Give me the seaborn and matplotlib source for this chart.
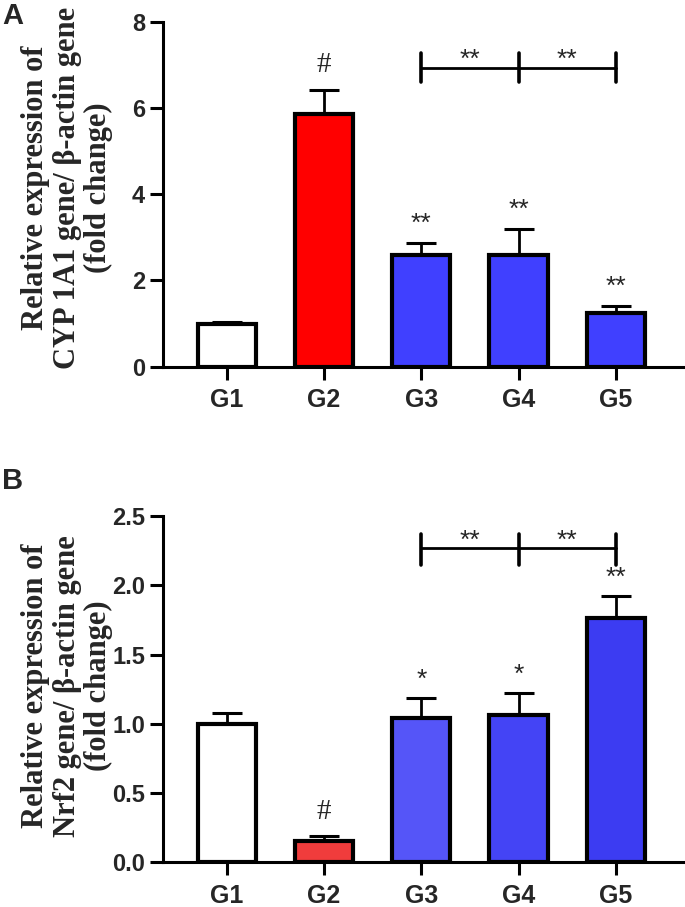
import numpy as np
import matplotlib
matplotlib.use("Agg")
import matplotlib.pyplot as plt
import seaborn as sns

groups = ["G1", "G2", "G3", "G4", "G5"]

# panel A: CYP 1A1
cyp_mean = [1.00, 5.85, 2.58, 2.60, 1.25]
cyp_err = [0.03, 0.57, 0.28, 0.59, 0.16]
cyp_marks = ["", "#", "**", "**", "**"]
cyp_colors = ["#ffffff", "#ff0000", "#4040ff", "#4040ff", "#4040ff"]

# panel B: Nrf2
nrf_mean = [1.00, 0.155, 1.045, 1.065, 1.76]
nrf_err = [0.077, 0.037, 0.14, 0.16, 0.165]
nrf_marks = ["", "#", "*", "*", "**"]
nrf_colors = ["#ffffff", "#f03c3c", "#5555f8", "#4444f5", "#3c3cf2"]

sns.set_style("ticks")
plt.rcParams["font.family"] = ["Liberation Sans", "DejaVu Sans"]

fig = plt.figure(figsize=(6.85, 9.07), dpi=100)
axA = fig.add_axes([0.238, 0.5957, 0.7605, 0.3804])
axB = fig.add_axes([0.238, 0.0493, 0.7605, 0.3818])


def draw(ax, means, errs, colors, marks, ylim, yticks, ylabel, bracket, offs, label_y):
    sns.barplot(x=groups, y=means, hue=groups, palette=colors, legend=False,
                edgecolor="black", linewidth=3, width=0.6, saturation=1, ax=ax)
    ax.errorbar(np.arange(5), means, yerr=[np.zeros(5), errs], fmt="none",
                ecolor="black", elinewidth=2, capsize=11, capthick=2.2, zorder=0.5)
    ax.set_xlim(-0.655, 4.70)
    ax.set_ylim(*ylim)
    ax.set_yticks(yticks)
    ax.set_yticklabels([("%g" % t) if ylim[1] > 5 else ("%.1f" % t) for t in yticks],
                       fontsize=17, fontweight="bold")
    ax.set_xticks(range(5))
    ax.set_xticklabels(groups, fontsize=18, fontweight="bold")
    ax.tick_params(axis="both", width=2.2, length=9.5, color="black")
    ax.tick_params(axis="x", pad=6)
    for s in ["top", "right"]:
        ax.spines[s].set_visible(False)
    for s in ["left", "bottom"]:
        ax.spines[s].set_linewidth(2.2)
        ax.spines[s].set_color("black")
    ax.set_xlabel("")
    ax.set_ylabel("")
    for i, m in enumerate(marks):
        if not m:
            continue
        if m == "#":
            ax.text(i, means[i] + errs[i] + offs[0], m, ha="center", va="center",
                    fontsize=21, family="Liberation Serif", clip_on=False)
        else:
            ax.text(i, means[i] + errs[i] + offs[1], m, ha="center", va="center",
                    fontsize=19, clip_on=False)
    yb, lo, hi, ys = bracket
    ax.plot([2, 4], [yb, yb], color="black", lw=2, clip_on=False)
    for xi in [2, 3, 4]:
        ax.plot([xi, xi], [lo, hi], color="black", lw=2.6, clip_on=False)
    for xc in [2.5, 3.5]:
        ax.text(xc, ys, "**", ha="center", va="center", fontsize=19, clip_on=False)
    fig.text(0.098, label_y, ylabel,
             rotation=90, ha="center", va="center", multialignment="center",
             fontsize=22, fontweight="bold", family="Liberation Serif", linespacing=1.1)


draw(axA, cyp_mean, cyp_err, cyp_colors, cyp_marks, (0, 8), [0, 2, 4, 6, 8],
     "Relative expression of\nCYP 1A1 gene/ β-actin gene\n(fold change)",
     (6.93, 6.59, 7.28, 7.12), (0.57, 0.45), 1 - 188 / 907)
draw(axB, nrf_mean, nrf_err, nrf_colors, nrf_marks, (0, 2.5), [0, 0.5, 1.0, 1.5, 2.0, 2.5],
     "Relative expression of\nNrf2 gene/ β-actin gene\n(fold change)",
     (2.268, 2.145, 2.37, 2.32), (0.17, 0.13), 1 - 686 / 907)

fig.text(0.003, 1 - 16 / 907, "A", fontsize=21, fontweight="heavy", ha="left", va="center")
fig.text(0.003, 1 - 481 / 907, "B", fontsize=21, fontweight="heavy", ha="left", va="center")

fig.savefig("out.png", dpi=100)
